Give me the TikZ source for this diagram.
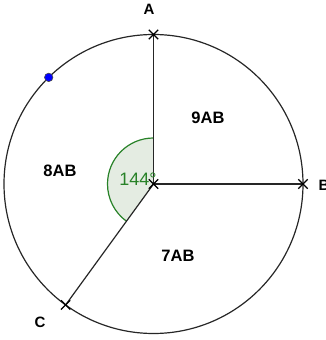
\documentclass[tikz,border=0pt]{standalone}
\usepackage{fontspec}
\setmainfont{Liberation Sans}
\usetikzlibrary{shapes.misc}
\definecolor{anggreen}{RGB}{40,130,40}
\definecolor{angfill}{RGB}{228,236,226}
\begin{document}
\begin{tikzpicture}[x=1pt,y=1pt,
  line/.style={line width=1.2pt,draw=black!85},
  xmark/.style={cross out,draw=black,line width=1.3pt,minimum size=8pt,inner sep=0pt},
  ptlabel/.style={font=\bfseries\fontsize{15}{15}\selectfont},
  reglabel/.style={font=\bfseries\fontsize{16.5}{16.5}\selectfont}]
\useasboundingbox (0,0) rectangle (326,340);
\coordinate (O) at (153.5,156);
\path (O) ++(90:149.5) coordinate (A);
\path (O) ++(0:149.5) coordinate (B);
\path (O) ++(234:149.5) coordinate (C);
\path (O) ++(134.5:149.5) coordinate (D);
% angle sector
\fill[angfill] (O) -- ++(90:46) arc[start angle=90,end angle=234,radius=46] -- cycle;
\draw[anggreen,line width=1.2pt] (O) ++(90:46) arc[start angle=90,end angle=234,radius=46];
% circle and radii
\draw[line] (O) circle (149.5);
\draw[line] (O) -- (A);
\draw[line] (O) -- (B);
\draw[line] (O) -- (C);
% marks
\node[xmark] (mO) at (O) {};
\node[xmark] (mA) at (A) {};
\node[xmark] (mB) at (B) {};
\node[xmark] (mC) at (C) {};
\node[circle,fill=blue,draw=black!70,line width=0.6pt,minimum size=8.5pt,inner sep=0pt] (dot) at (D) {};
% labels
\node[ptlabel] (lA) at (149,331) {A};
\node[ptlabel,anchor=west] (lB) at (315,155) {B};
\node[ptlabel] (lC) at (40,18) {C};
\node[reglabel] (r9) at (208,222) {9AB};
\node[reglabel] (r8) at (60,169) {8AB};
\node[reglabel] (r7) at (178,84) {7AB};
\node[text=anggreen,font=\fontsize{18}{18}\selectfont] (ang) at (138,161) {144°};
\end{tikzpicture}
\end{document}
